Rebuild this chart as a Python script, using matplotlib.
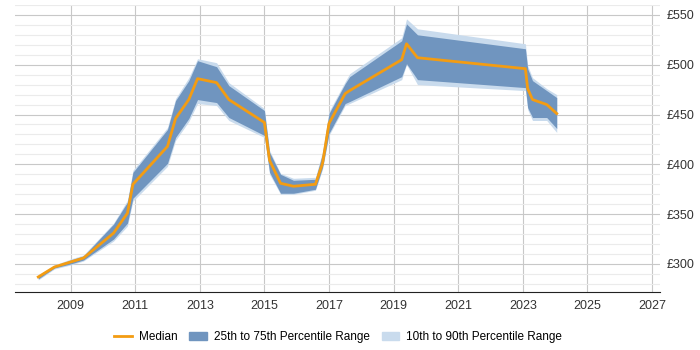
import matplotlib.pyplot as plt
from matplotlib.patches import Patch
from matplotlib.lines import Line2D
from matplotlib.ticker import MultipleLocator, FuncFormatter

plt.rcParams['font.family'] = ['Liberation Sans', 'DejaVu Sans']

# time points (decimal years)
years = [2008.0, 2008.5, 2009.0, 2009.4, 2010.33, 2010.76, 2010.93, 2012.0, 2012.25,
         2012.66, 2012.93, 2013.52, 2013.9, 2015.0, 2015.16, 2015.5, 2015.9, 2016.58,
         2016.8, 2017.0, 2017.5, 2017.64, 2019.25, 2019.4, 2019.74, 2023.08, 2023.15,
         2023.3, 2023.74, 2024.05]

median = [287, 297, 302, 306, 331, 351, 380, 418, 446, 465, 486, 482, 465, 442, 404,
          381, 378, 380, 401, 441, 471, 474, 505, 521, 507, 496, 476, 465, 460, 451]

p25 = [285, 296, 300, 304, 325, 341, 366, 401, 427, 446, 465, 462, 447, 429, 392,
       371, 371, 375, 397, 431, 461, 463, 488, 501, 485, 477, 457, 447, 447, 436]
p75 = [288, 298, 304, 308, 340, 362, 392, 435, 464, 484, 504, 498, 479, 454, 412,
       390, 384, 385, 411, 451, 481, 488, 524, 541, 530, 516, 496, 484, 474, 467]

p10 = [284, 295, 299, 303, 323, 338, 363, 398, 424, 443, 461, 459, 444, 427, 390,
       370, 370, 374, 395, 429, 459, 461, 485, 500, 480, 474, 455, 444, 444, 432]
p90 = [289, 299, 305, 309, 341, 364, 394, 437, 466, 487, 506, 502, 482, 456, 414,
       391, 386, 387, 413, 453, 483, 491, 527, 546, 536, 521, 499, 487, 476, 470]

x_ticks = [2009, 2011, 2013, 2015, 2017, 2019, 2021, 2023, 2025, 2027]

c_med = '#f39c12'
c_iqr = '#7095bf'
c_dec = '#c9dbed'

fig = plt.figure(figsize=(7, 3.5), dpi=100)
ax = fig.add_axes([0.021, 0.166, 0.922, 0.82])

ax.fill_between(years, p10, p90, color=c_dec, linewidth=0, zorder=2)
ax.fill_between(years, p25, p75, color=c_iqr, linewidth=0, zorder=3)
ax.plot(years, median, color=c_med, linewidth=2, zorder=4)

ax.set_xlim(2007.27, 2027.25)
ax.set_ylim(272, 560)
ax.set_xticks(x_ticks)
ax.yaxis.set_major_locator(MultipleLocator(50))
ax.yaxis.set_minor_locator(MultipleLocator(10))
ax.yaxis.set_major_formatter(FuncFormatter(lambda v, p: '£%d' % v))
ax.yaxis.tick_right()
ax.tick_params(axis='both', which='both', length=0, labelsize=9, colors='#333333')
ax.tick_params(axis='y', pad=5)
ax.tick_params(axis='x', pad=6)

ax.grid(True, which='major', color='#c8c8c8', linewidth=0.8, zorder=0)
ax.grid(True, which='minor', axis='y', color='#ebebeb', linewidth=0.8, zorder=0)
ax.set_axisbelow(True)
for s in ['top', 'right', 'left']:
    ax.spines[s].set_visible(False)
ax.spines['bottom'].set_color('#222222')

handles = [Line2D([0], [0], color=c_med, linewidth=2),
           Patch(color=c_iqr), Patch(color=c_dec)]
labels = ['Median', '25th to 75th Percentile Range', '10th to 90th Percentile Range']
fig.legend(handles, labels, loc='lower center', ncol=3, frameon=False,
           bbox_to_anchor=(0.483, -0.01), fontsize=8.5, handlelength=1.5,
           handletextpad=0.6, columnspacing=1.0)

fig.savefig('out.png', dpi=100)
